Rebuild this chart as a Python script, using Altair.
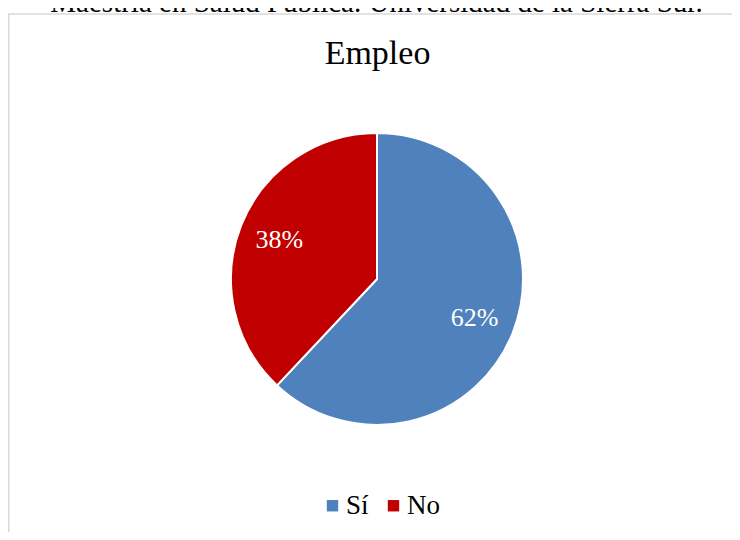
import altair as alt
import pandas as pd

categories = ["Sí", "No"]
values = [62, 38]
labels = ["62%", "38%"]
colors = ["#4F81BD", "#C00000"]
chart_title = "Empleo"
header_text = "Maestría en Salud Pública. Universidad de la Sierra Sur."

df = pd.DataFrame({"cat": categories, "value": values, "label": labels, "order": list(range(len(categories)))})

W, H = 724, 524
CX, CY = 369, 271
FONT = "Times New Roman"

frame = alt.Chart(pd.DataFrame({"a": [0]})).mark_rect(
    fill="white", stroke="#d9d9d9", strokeWidth=1.5
).encode(x=alt.value(0.75), x2=alt.value(740), y=alt.value(6), y2=alt.value(540))

header = alt.Chart(pd.DataFrame({"t": [header_text]})).mark_text(
    font=FONT, fontSize=29, baseline="alphabetic", align="center", color="black"
).encode(text="t:N", x=alt.value(368.5), y=alt.value(3.5))

title = alt.Chart(pd.DataFrame({"t": [chart_title]})).mark_text(
    font=FONT, fontSize=34, baseline="alphabetic", align="center", color="black"
).encode(text="t:N", x=alt.value(369.5), y=alt.value(56))

base = alt.Chart(df).encode(
    theta=alt.Theta("value:Q", stack=True),
    order=alt.Order("order:Q"),
)

pie = base.mark_arc(radius=146, stroke="white", strokeWidth=2, x=CX, y=CY).encode(
    color=alt.Color(
        "cat:N",
        scale=alt.Scale(domain=categories, range=colors),
        sort=categories,
        legend=alt.Legend(
            title=None,
            orient="none",
            direction="horizontal",
            legendX=311,
            legendY=484,
            labelFont=FONT,
            labelFontSize=27,
            labelColor="black",
            symbolType="square",
            symbolSize=130,
            symbolStrokeWidth=0,
            labelOffset=0,
            columnPadding=11,
        ),
    )
)

text = base.mark_text(radius=105, x=CX, y=CY, font=FONT, fontSize=26, baseline="middle").encode(
    text="label:N", color=alt.value("white")
)

chart = alt.layer(frame, header, title, pie, text).properties(
    width=W, height=H, autosize=alt.AutoSizeParams(type="none"), padding=0
).configure_view(stroke=None)

chart.save("out.html", embed_options={"renderer": "svg", "actions": False})
